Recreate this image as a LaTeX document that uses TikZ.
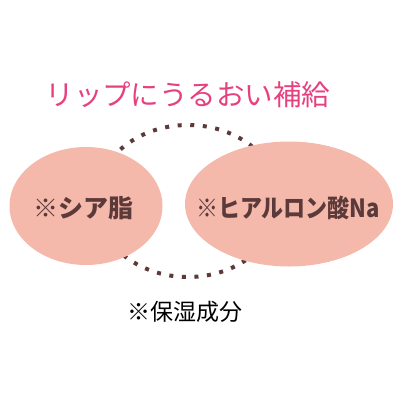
\documentclass[tikz,border=0pt]{standalone}
\usepackage{fontspec}
\setmainfont{Noto Sans CJK JP}
\newfontfamily\narrowjp[FakeStretch=0.88]{Noto Sans CJK JP}
\usetikzlibrary{shapes.geometric}
\definecolor{lippink}{HTML}{E6407F}
\definecolor{blobfill}{HTML}{F5B9AC}
\definecolor{cocoa}{HTML}{5C3A3A}

\begin{document}
\begin{tikzpicture}[x=1pt, y=-1pt,
    blob/.style={ellipse, fill=blobfill, inner sep=0pt},
    blobtext/.style={text=cocoa, inner sep=0pt,
                 font=\fontsize{25}{28}\selectfont\bfseries},
    ring/.style={ellipse, draw=cocoa, line width=4pt, line cap=butt,
                 dash pattern=on 4pt off 8.6pt, inner sep=0pt},
    title/.style={text=lippink, font=\fontsize{28.5}{32}\selectfont},
    note/.style={text=black, font=\fontsize{23}{26}\selectfont}
  ]
    \useasboundingbox (0,0) rectangle (400,400);

    % dotted ring sits behind both ellipses
    \node[ring, minimum width=184pt, minimum height=152pt] (loop) at (188,201) {};

    \node[blob, minimum width=153pt, minimum height=118pt] (shea) at (86,206) {};
    \node[blob, minimum width=208pt, minimum height=125pt] (hyal) at (289,204) {};
    \node[blobtext] (sheatext) at (84,208) {※シア脂};
    \node[blobtext, font=\narrowjp\fontsize{25}{28}\selectfont\bfseries] (hyaltext) at (288,208) {※ヒアルロン酸Na};

    \node[title] (head) at (188,95) {リップにうるおい補給};
    \node[note]  (moist) at (185,312) {※保湿成分};
  \end{tikzpicture}
\end{document}
